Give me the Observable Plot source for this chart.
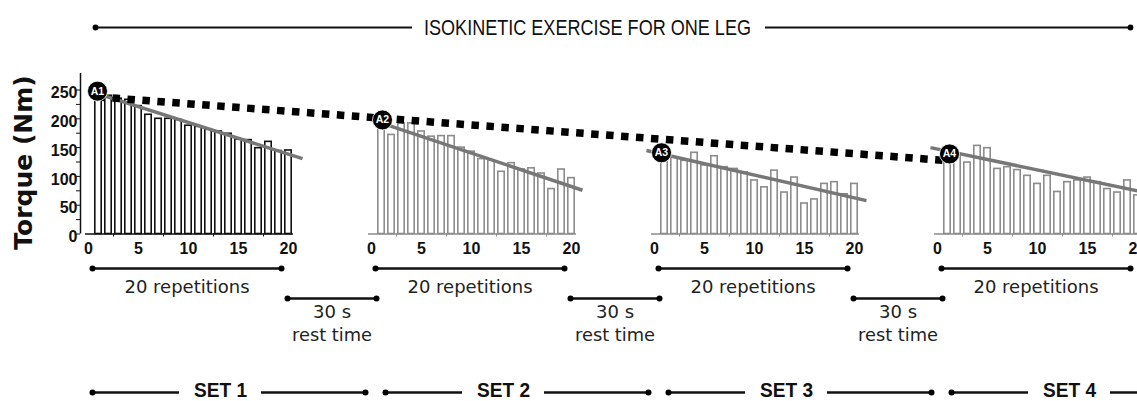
<!DOCTYPE html>
<html><head><meta charset="utf-8">
<script src="https://cdn.jsdelivr.net/npm/d3@7"></script>
<script src="https://cdn.jsdelivr.net/npm/@observablehq/plot@0.6"></script>
<style>body{margin:0;background:#fff;overflow:hidden}#chart svg{display:block}</style>
</head><body><div id="chart"></div>
<script>
// ---- data ----
const sets = ["SET 1", "SET 2", "SET 3", "SET 4"];
const markers = ["A1", "A2", "A3", "A4"];
const repetitions = d3.range(1, 21);
const torqueSet1 = [244, 240, 235, 233, 222, 207, 200, 200, 198, 188, 186, 181, 178, 174, 164, 163, 149, 160, 144, 145];
const torqueSet2 = [195, 172, 192, 192, 178, 169, 170, 170, 150, 143, 130, 128, 108, 123, 112, 114, 105, 78, 112, 97];
const torqueSet3 = [138, 133, 127, 141, 119, 135, 116, 113, 107, 93, 81, 110, 72, 98, 53, 60, 87, 90, 69, 87];
const torqueSet4 = [146, 136, 124, 153, 149, 113, 116, 111, 101, 87, 101, 73, 90, 93, 98, 90, 78, 72, 93, 67];
const torqueBySet = [torqueSet1, torqueSet2, torqueSet3, torqueSet4];
const xTickLabels = [0, 5, 10, 15, 20];
const xMinorTicks = [2.5, 7.5, 12.5, 17.5];
const yTickLabels = [0, 50, 100, 150, 200, 250];
const yMinorTicks = d3.range(0, 251, 25);
const trendFromRep = [0.8, 1.1, -0.8, -0.7];
const trendFromTorque = [244, 192, 145, 150];
const trendToRep = [21.4, 21.1, 21.2, 20.8];
const trendToTorque = [131, 76, 58, 72];
const markerRep = [0.9, 1.1, 0.7, 1.2];
const markerTorque = [248, 198, 141, 139];
const declineSet = [0, 3];
const declineRep = [0.9, 0.5];
const declineTorque = [238, 128];
const titleText = "ISOKINETIC EXERCISE FOR ONE LEG";
const repText = "20 repetitions";
const restText = ["30 s", "rest time"];

// ---- layout ----
const W = 1137, H = 401;
const X0 = 88, PX_PER_REP = 10, Y0 = 233.5, PX_PER_NM = 0.576;
const ux = p => (p - X0) / PX_PER_REP;       // page px -> x units
const vy = p => (Y0 - p) / PX_PER_NM;        // page px -> y units
const GAP = 28.3;                              // 20 reps + rest, in rep units
const off = k => k * GAP;
const colorOf = k => k === 0 ? "#111" : "#8c8c8c";
const SANS = "DejaVu Sans, sans-serif";
const ARIAL = "Liberation Sans, Arial, sans-serif";

const bars = sets.flatMap((s, k) => repetitions.map((r, i) => ({k, x: off(k) + r, v: torqueBySet[k][i]})));
const trends = sets.flatMap((s, k) => [
  {k, x: off(k) + trendFromRep[k], v: trendFromTorque[k]},
  {k, x: off(k) + trendToRep[k], v: trendToTorque[k]}
]);
const markerPts = markers.map((m, k) => ({m, x: off(k) + markerRep[k], v: markerTorque[k]}));
const decline = declineSet.map((k, i) => ({x: off(k) + declineRep[i], v: declineTorque[i]}));
const xLabels = sets.flatMap((s, k) => xTickLabels.map(t => ({k, x: off(k) + t, t})));
const xMinor = sets.flatMap((s, k) => xMinorTicks.map(t => ({k, x: off(k) + t})));
const axisLines = sets.map((s, k) => ({k, x1: off(k) - 0.3, x2: off(k) + 20.5}));

// annotation segments
const yTitle = vy(27), yRep = vy(268), yRepT = vy(287), yRest = vy(298), yRest1 = vy(312), yRest2 = vy(335), ySet = vy(392), ySetT = vy(390);
const titleSegs = [{x1: ux(95), x2: ux(412), y: yTitle}, {x1: ux(765), x2: ux(1130), y: yTitle}];
const segs = [];
const segDots = [{x: ux(95), y: yTitle, r: 4}, {x: ux(1130), y: yTitle, r: 4}];
const texts = [];
sets.forEach((s, k) => {
  const o = off(k);
  segs.push({x1: o + 0.4, x2: o + 19.3, y: yRep});
  segDots.push({x: o + 0.4, y: yRep}, {x: o + 19.3, y: yRep});
  texts.push({x: o + 9.85, y: yRepT, t: repText});
  if (k < sets.length - 1) {
    segs.push({x1: o + 19.9, x2: o + 28.8, y: yRest});
    segDots.push({x: o + 19.9, y: yRest}, {x: o + 28.8, y: yRest});
    texts.push({x: o + 24.35, y: yRest1, t: restText[0]}, {x: o + 24.35, y: yRest2, t: restText[1]});
  }
  const s0 = k === 0 ? 0.4 : 1.4, s1 = 27.7, c = 13.2;
  segs.push({x1: o + s0, x2: o + c - 4.1, y: ySet}, {x1: o + c + 4.1, x2: o + s1, y: ySet});
  segDots.push({x: o + s0, y: ySet}, {x: o + s1, y: ySet});
});
const setLabels = sets.map((s, k) => ({x: off(k) + 13.2, y: ySetT, t: s}));

const chart = Plot.plot({
  width: W, height: H,
  marginLeft: 0, marginRight: 0, marginTop: 0, marginBottom: 0,
  x: {domain: [ux(0), ux(W)], range: [0, W], axis: null},
  y: {domain: [vy(H), vy(0)], range: [H, 0], axis: null},
  style: {background: "white"},
  marks: [
    // title
    Plot.ruleY(titleSegs, {y: "y", x1: "x1", x2: "x2", stroke: "#111", strokeWidth: 2.2}),
    Plot.text([titleText], {x: ux(587), y: yTitle, text: d => d, fontFamily: ARIAL, fontSize: 22, fill: "#111"}),
    // y axis
    Plot.ruleX([ux(80)], {y1: 0, y2: vy(73), stroke: "#111", strokeWidth: 1.5}),
    Plot.ruleY(yMinorTicks, {y: d => d, x1: ux(76), x2: ux(80), stroke: "#111", strokeWidth: 1}),
    Plot.text(yTickLabels, {x: ux(77), y: d => d, dy: 3, text: d => String(d), textAnchor: "end", fontFamily: ARIAL, fontWeight: "bold", fontSize: 16, fill: "#111"}),
    Plot.text(["Torque (Nm)"], {x: ux(23), y: vy(162), text: d => d, rotate: -90, fontFamily: SANS, fontWeight: "bold", fontSize: 25, fill: "#111"}),
    // bars
    Plot.rect(bars, {x1: d => d.x - 0.32, x2: d => d.x + 0.32, y1: 0, y2: "v", fill: "white", stroke: d => colorOf(d.k), strokeWidth: 1.6}),
    // x axes
    Plot.ruleY(axisLines, {y: 0, x1: "x1", x2: "x2", stroke: d => colorOf(d.k), strokeWidth: 1.6}),
    Plot.ruleX(xMinor, {x: "x", y1: 0, y2: vy(Y0 + 3), stroke: d => colorOf(d.k), strokeWidth: 1}),
    Plot.text(xLabels, {x: "x", y: vy(248), text: d => String(d.t), fontFamily: ARIAL, fontWeight: "bold", fontSize: 16, fill: "#111"}),
    // trend lines
    Plot.line(trends, {x: "x", y: "v", z: "k", stroke: "#777", strokeWidth: 3.5, strokeLinecap: "butt"}),
    // decline line
    Plot.line(decline, {x: "x", y: "v", stroke: "#000", strokeWidth: 7.5, strokeDasharray: "7.5,7.5", strokeLinecap: "butt"}),
    // markers
    Plot.dot(markerPts, {x: "x", y: "v", r: 10, fill: "#000", stroke: "white", strokeWidth: 0.8}),
    Plot.text(markerPts, {x: "x", y: "v", text: "m", fill: "white", fontFamily: ARIAL, fontWeight: "bold", fontSize: 10.5}),
    // annotation rows
    Plot.ruleY(segs, {y: "y", x1: "x1", x2: "x2", stroke: "#111", strokeWidth: 2.3}),
    Plot.dot(segDots, {x: "x", y: "y", r: d => d.r ?? 4.3, fill: "#000"}),
    Plot.text(texts, {x: "x", y: "y", text: "t", fontFamily: SANS, fontSize: 18, fill: "#222"}),
    Plot.text(setLabels, {x: "x", y: "y", text: "t", fontFamily: ARIAL, fontWeight: "bold", fontSize: 21, fill: "#111"})
  ]
});
// condense the title and set labels to the reference's narrow lettering
d3.select(chart).selectAll("text").each(function() {
  const t = this.textContent;
  if (t === titleText) { this.setAttribute("textLength", 327); this.setAttribute("lengthAdjust", "spacingAndGlyphs"); }
  else if (sets.includes(t)) { this.setAttribute("textLength", 53); this.setAttribute("lengthAdjust", "spacingAndGlyphs"); }
  else if (t === restText[1]) { this.setAttribute("textLength", 80); this.setAttribute("lengthAdjust", "spacingAndGlyphs"); }
});
document.getElementById("chart").appendChild(chart);
</script></body></html>
